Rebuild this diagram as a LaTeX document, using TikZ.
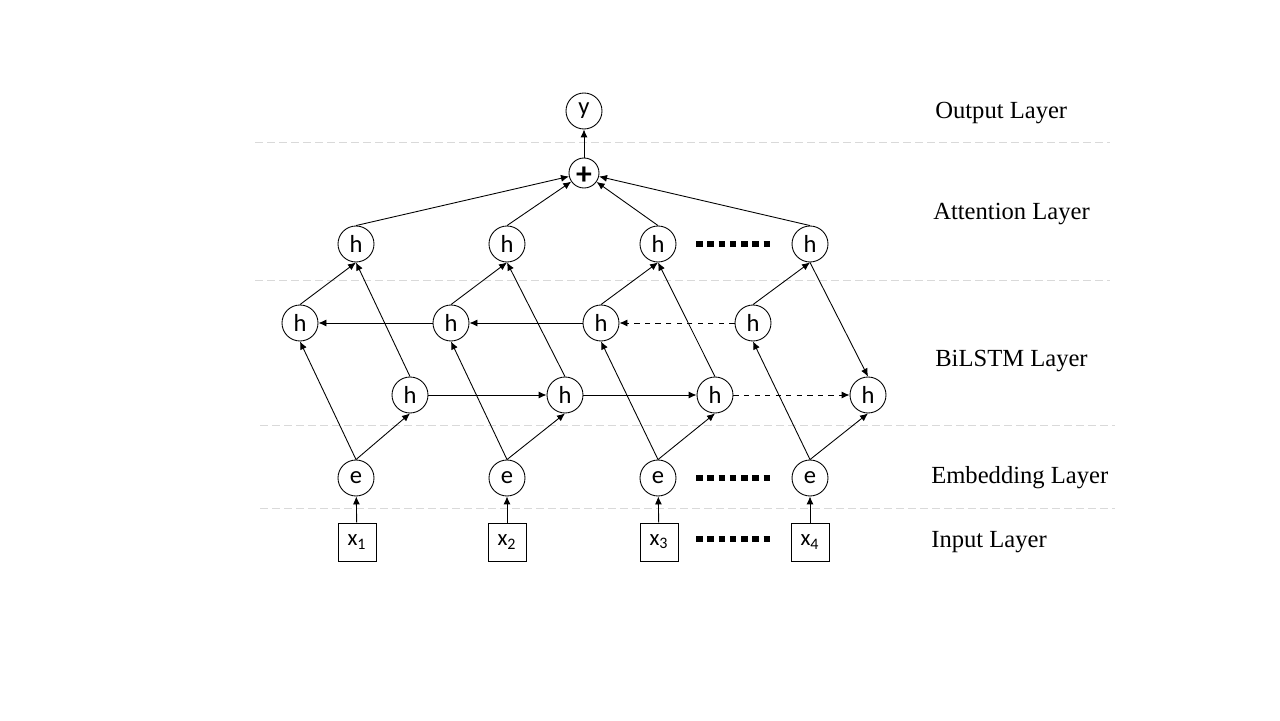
\documentclass[tikz,border=0pt]{standalone}
\usepackage{fontspec}
\setmainfont{Liberation Serif}
\newfontfamily\nodefont{Carlito}
\usetikzlibrary{arrows.meta}

\begin{document}
\begin{tikzpicture}[>={Latex[length=1.6mm,width=1.4mm]}, line width=0.5pt,
  unit/.style={circle, draw, minimum size=0.72cm, inner sep=0pt,
    font=\nodefont\fontsize{14}{16}\selectfont},
  sumunit/.style={circle, draw, minimum size=0.6cm, inner sep=0pt,
    text height=13.5pt, text depth=0pt,
    font=\nodefont\bfseries\fontsize{18}{18}\selectfont},
  inbox/.style={rectangle, draw, minimum size=0.76cm, inner sep=0pt,
    font=\nodefont\fontsize{13}{15}\selectfont},
  layername/.style={anchor=west, font=\fontsize{14}{16}\selectfont},
  sepline/.style={gray!30, line width=0.5pt, dash pattern=on 0.16cm off 0.08cm},
  dotrow/.style={line width=0.13cm, dash pattern=on 0.13cm off 0.095cm}]

\useasboundingbox (0,0) rectangle (25.6,14.4);

% Layer separators
\draw[sepline] (5.1,11.56) -- (22.2,11.56);
\draw[sepline] (5.1,8.8) -- (22.2,8.8);
\draw[sepline] (5.2,5.9) -- (22.3,5.9);
\draw[sepline] (5.2,4.24) -- (22.3,4.24);

% Layer names
\node[layername] (lout) at (18.58,12.14) {Output Layer};
\node[layername] (latt) at (18.54,10.12) {Attention Layer};
\node[layername] (lbi) at (18.58,7.18) {BiLSTM Layer};
\node[layername] (lemb) at (18.5,4.84) {Embedding Layer};
\node[layername] (lin) at (18.5,3.56) {Input Layer};

% Input
\node[inbox] (x1) at (7.14,3.56) {x\textsubscript{1}};
\node[inbox] (x2) at (10.14,3.56) {x\textsubscript{2}};
\node[inbox] (x3) at (13.18,3.56) {x\textsubscript{3}};
\node[inbox] (x4) at (16.2,3.56) {x\textsubscript{4}};

% Embedding
\node[unit] (e1) at (7.12,4.84) {e};
\node[unit] (e2) at (10.14,4.84) {e};
\node[unit] (e3) at (13.16,4.84) {e};
\node[unit] (e4) at (16.2,4.84) {e};

% BiLSTM, forward and backward
\node[unit] (f1) at (8.2,6.5) {h};
\node[unit] (f2) at (11.3,6.5) {h};
\node[unit] (f3) at (14.3,6.5) {h};
\node[unit] (f4) at (17.36,6.5) {h};

\node[unit] (b1) at (6.0,7.94) {h};
\node[unit] (b2) at (9.02,7.94) {h};
\node[unit] (b3) at (12.02,7.94) {h};
\node[unit] (b4) at (15.06,7.94) {h};

% Attention
\node[unit] (a1) at (7.12,9.52) {h};
\node[unit] (a2) at (10.14,9.52) {h};
\node[unit] (a3) at (13.16,9.52) {h};
\node[unit] (a4) at (16.2,9.52) {h};

\node[sumunit] (sum) at (11.68,10.94) {+};

% Output
\node[unit] (y) at (11.68,12.18) {y};

% Dots
\draw[dotrow] (13.92,9.52) -- (15.4,9.52);
\draw[dotrow] (13.92,4.84) -- (15.4,4.84);
\draw[dotrow] (13.92,3.62) -- (15.4,3.62);

% Input to embedding
\draw[->] (x1) -- (e1);
\draw[->] (x2) -- (e2);
\draw[->] (x3) -- (e3);
\draw[->] (x4) -- (e4);

% Embedding to BiLSTM
\draw[->] (e1.north) -- (f1.south);
\draw[->] (e2.north) -- (f2.south);
\draw[->] (e3.north) -- (f3.south);
\draw[->] (e4.north) -- (f4.south);
\draw[->] (e1.north) -- (b1.south);
\draw[->] (e2.north) -- (b2.south);
\draw[->] (e3.north) -- (b3.south);
\draw[->] (e4.north) -- (b4.south);

% Recurrence
\draw[->] (f1) -- (f2);
\draw[->] (f2) -- (f3);
\draw[->, dashed] (f3) -- (f4);
\draw[->, dashed] (b4) -- (b3);
\draw[->] (b3) -- (b2);
\draw[->] (b2) -- (b1);

% BiLSTM to attention
\draw[->] (b1.north) -- (a1.south);
\draw[->] (b2.north) -- (a2.south);
\draw[->] (b3.north) -- (a3.south);
\draw[->] (b4.north) -- (a4.south);
\draw[->] (f1.north) -- (a1.south);
\draw[->] (f2.north) -- (a2.south);
\draw[->] (f3.north) -- (a3.south);
\draw[->] (a4.south) -- (f4.north);

% Attention sum
\draw[->] (a1.north) -- (sum);
\draw[->] (a2.north) -- (sum);
\draw[->] (a3.north) -- (sum);
\draw[->] (a4.north) -- (sum);
\draw[->] (sum) -- (y);

\end{tikzpicture}
\end{document}
